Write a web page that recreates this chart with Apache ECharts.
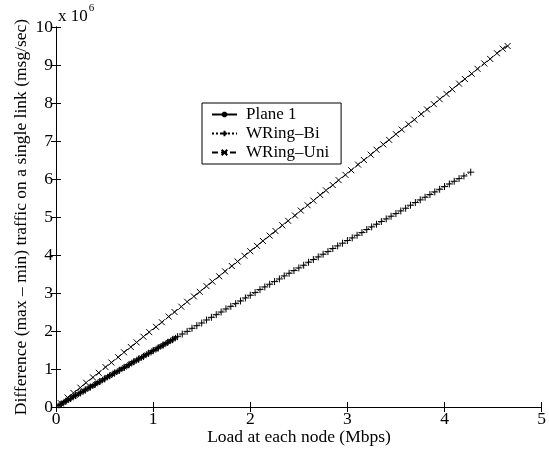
<!DOCTYPE html>
<html>
<head>
<meta charset="utf-8">
<script src="https://cdn.jsdelivr.net/npm/echarts@6/dist/echarts.min.js"></script>
<style>
  html, body { margin: 0; padding: 0; background: #fff; }
  #chart { width: 549px; height: 449px; }
</style>
</head>
<body>
<div id="chart"></div>
<script>
// values in units of 10^6 msg/sec, load in Mbps
const plane1X = [0.03, 0.055, 0.08, 0.105, 0.13, 0.155, 0.18, 0.205, 0.23, 0.255, 0.28, 0.305, 0.33, 0.355, 0.38, 0.405, 0.43, 0.455, 0.48, 0.505, 0.53, 0.555, 0.58, 0.605, 0.63, 0.655, 0.68, 0.705, 0.73, 0.755, 0.78, 0.805, 0.83, 0.855, 0.88, 0.905, 0.93, 0.955, 0.98, 1.005, 1.03, 1.055, 1.08, 1.105, 1.13, 1.155, 1.18, 1.205, 1.23]
const plane1Y = [0.04, 0.08, 0.12, 0.16, 0.19, 0.23, 0.27, 0.30, 0.34, 0.38, 0.41, 0.45, 0.49, 0.53, 0.56, 0.60, 0.64, 0.67, 0.71, 0.75, 0.79, 0.82, 0.86, 0.90, 0.93, 0.97, 1.01, 1.04, 1.08, 1.12, 1.16, 1.19, 1.23, 1.27, 1.30, 1.34, 1.38, 1.41, 1.45, 1.49, 1.52, 1.56, 1.60, 1.63, 1.67, 1.71, 1.74, 1.78, 1.82]

const biX = [0.05, 0.10, 0.15, 0.20, 0.25, 0.30, 0.35, 0.40, 0.45, 0.50, 0.55, 0.60, 0.65, 0.70, 0.75, 0.80, 0.85, 0.90, 0.95, 1.00, 1.05, 1.10, 1.15, 1.20, 1.25, 1.30, 1.35, 1.40, 1.45, 1.50, 1.55, 1.60, 1.65, 1.70, 1.75, 1.80, 1.85, 1.90, 1.95, 2.00, 2.05, 2.10, 2.15, 2.20, 2.25, 2.30, 2.35, 2.40, 2.45, 2.50, 2.55, 2.60, 2.65, 2.70, 2.75, 2.80, 2.85, 2.90, 2.95, 3.00, 3.05, 3.10, 3.15, 3.20, 3.25, 3.30, 3.35, 3.40, 3.45, 3.50, 3.55, 3.60, 3.65, 3.70, 3.75, 3.80, 3.85, 3.90, 3.95, 4.00, 4.05, 4.10, 4.15, 4.20, 4.27]
const biY = [0.07, 0.15, 0.22, 0.30, 0.37, 0.45, 0.52, 0.59, 0.67, 0.74, 0.82, 0.89, 0.96, 1.04, 1.11, 1.19, 1.26, 1.33, 1.41, 1.48, 1.55, 1.63, 1.70, 1.77, 1.85, 1.92, 1.99, 2.07, 2.14, 2.21, 2.29, 2.36, 2.43, 2.50, 2.58, 2.65, 2.72, 2.79, 2.87, 2.94, 3.01, 3.09, 3.16, 3.23, 3.30, 3.37, 3.45, 3.52, 3.59, 3.66, 3.73, 3.81, 3.88, 3.95, 4.02, 4.09, 4.17, 4.24, 4.31, 4.38, 4.45, 4.52, 4.59, 4.67, 4.74, 4.81, 4.88, 4.95, 5.02, 5.09, 5.16, 5.23, 5.31, 5.38, 5.45, 5.52, 5.59, 5.66, 5.73, 5.80, 5.87, 5.94, 6.01, 6.08, 6.18]

const uniX = [0.05, 0.12, 0.18, 0.25, 0.31, 0.38, 0.44, 0.51, 0.57, 0.64, 0.70, 0.77, 0.83, 0.90, 0.96, 1.03, 1.09, 1.16, 1.22, 1.29, 1.35, 1.42, 1.48, 1.55, 1.61, 1.68, 1.74, 1.81, 1.87, 1.94, 2.00, 2.07, 2.13, 2.20, 2.26, 2.33, 2.39, 2.46, 2.52, 2.59, 2.65, 2.72, 2.78, 2.85, 2.91, 2.98, 3.04, 3.11, 3.17, 3.24, 3.30, 3.37, 3.43, 3.50, 3.56, 3.63, 3.69, 3.76, 3.82, 3.89, 3.95, 4.02, 4.08, 4.15, 4.21, 4.28, 4.34, 4.41, 4.47, 4.54, 4.60, 4.65]
const uniY = [0.10, 0.25, 0.37, 0.51, 0.64, 0.78, 0.90, 1.05, 1.17, 1.31, 1.44, 1.58, 1.70, 1.85, 1.97, 2.11, 2.23, 2.38, 2.50, 2.64, 2.77, 2.91, 3.03, 3.18, 3.30, 3.44, 3.57, 3.71, 3.83, 3.98, 4.10, 4.24, 4.37, 4.51, 4.63, 4.78, 4.90, 5.04, 5.17, 5.31, 5.43, 5.58, 5.70, 5.84, 5.97, 6.11, 6.23, 6.38, 6.50, 6.64, 6.77, 6.91, 7.03, 7.18, 7.30, 7.44, 7.56, 7.71, 7.83, 7.97, 8.10, 8.24, 8.36, 8.51, 8.63, 8.77, 8.90, 9.04, 9.16, 9.31, 9.43, 9.50]

const xTicks = [0, 1, 2, 3, 4, 5]
const yTicks = [0, 1, 2, 3, 4, 5, 6, 7, 8, 9, 10]

const font = 'Liberation Serif'
const pair = (xs, ys) => xs.map((x, i) => [x, ys[i]])

const plusPath = 'path://M0,5L10,5M5,0L5,10'
const crossPath = 'path://M0,0L10,10M10,0L0,10'
const starPath = 'path://M0,5L10,5M5,0L5,10M1.5,1.5L8.5,8.5M8.5,1.5L1.5,8.5'

const markStyle = { color: 'none', borderColor: '#000', borderWidth: 1 }

const chart = echarts.init(document.getElementById('chart'), null, { renderer: 'canvas' })

const hiddenAxis = {
  axisLine: { show: true, lineStyle: { color: '#000', width: 1 } },
  axisTick: { show: true, inside: true, length: 5, lineStyle: { color: '#000' } },
  axisLabel: { show: false },
  splitLine: { show: false }
}

chart.setOption({
  animation: false,
  backgroundColor: '#fff',
  grid: { left: 56, right: 7, top: 27, bottom: 42 },
  xAxis: [
    {
      type: 'value', min: 0, max: 5, interval: 1,
      axisLine: { lineStyle: { color: '#000', width: 1 } },
      axisTick: { inside: true, length: 5, lineStyle: { color: '#000' } },
      axisLabel: { fontFamily: font, fontSize: 17.5, color: '#000', margin: 3,
        formatter: v => xTicks.includes(v) ? String(v) : '' },
      splitLine: { show: false }
    },
    Object.assign({ type: 'value', min: 0, max: 5, interval: 1, position: 'top' }, hiddenAxis)
  ],
  yAxis: [
    {
      type: 'value', min: 0, max: 10, interval: 1,
      axisLine: { lineStyle: { color: '#000', width: 1 } },
      axisTick: { inside: true, length: 5, lineStyle: { color: '#000' } },
      axisLabel: { fontFamily: font, fontSize: 17.5, color: '#000', margin: 3,
        formatter: v => yTicks.includes(v) ? String(v) : '' },
      splitLine: { show: false }
    },
    Object.assign({ type: 'value', min: 0, max: 10, interval: 1, position: 'right' }, hiddenAxis)
  ],
  legend: {
    left: 202, top: 103,
    orient: 'vertical',
    backgroundColor: '#fff',
    borderColor: '#000', borderWidth: 1,
    padding: [3, 12, 3, 9],
    itemGap: 2, itemWidth: 25, itemHeight: 7,
    textStyle: { fontFamily: font, fontSize: 17, color: '#000', padding: [0, 0, 0, 4] },
    data: ['Plane 1', 'WRing–Bi', 'WRing–Uni']
  },
  graphic: [
    {
      type: 'text', left: 58, top: 3,
      style: {
        text: '{a|x 10}{s|6}',
        rich: {
          a: { fontFamily: font, fontSize: 17, fill: '#000', verticalAlign: 'bottom', lineHeight: 22 },
          s: { fontFamily: font, fontSize: 11, fill: '#000', verticalAlign: 'top', lineHeight: 22, padding: [0, 0, 12, 1] }
        }
      }
    },
    {
      type: 'text', x: 21, y: 217, rotation: Math.PI / 2,
      style: {
        text: 'Difference (max – min) traffic on a single link (msg/sec)',
        fontFamily: font, fontSize: 17.5, fill: '#000',
        align: 'center', verticalAlign: 'middle'
      }
    },
    {
      type: 'text', x: 299, y: 437,
      style: {
        text: 'Load at each node (Mbps)',
        fontFamily: font, fontSize: 17.5, fill: '#000',
        align: 'center', verticalAlign: 'middle'
      }
    }
  ],
  series: [
    {
      name: 'WRing–Uni', type: 'line',
      data: pair(uniX, uniY),
      symbol: crossPath, symbolSize: 6,
      itemStyle: markStyle,
      lineStyle: { color: '#000', width: 1, type: [6, 3] }
    },
    {
      name: 'WRing–Bi', type: 'line',
      data: pair(biX, biY),
      symbol: plusPath, symbolSize: 7,
      itemStyle: markStyle,
      lineStyle: { color: '#000', width: 1, type: 'dotted' }
    },
    {
      name: 'Plane 1', type: 'line',
      data: pair(plane1X, plane1Y),
      symbol: starPath, symbolSize: 6,
      itemStyle: markStyle,
      lineStyle: { color: '#000', width: 1, type: 'solid' }
    }
  ]
})
</script>
</body>
</html>
